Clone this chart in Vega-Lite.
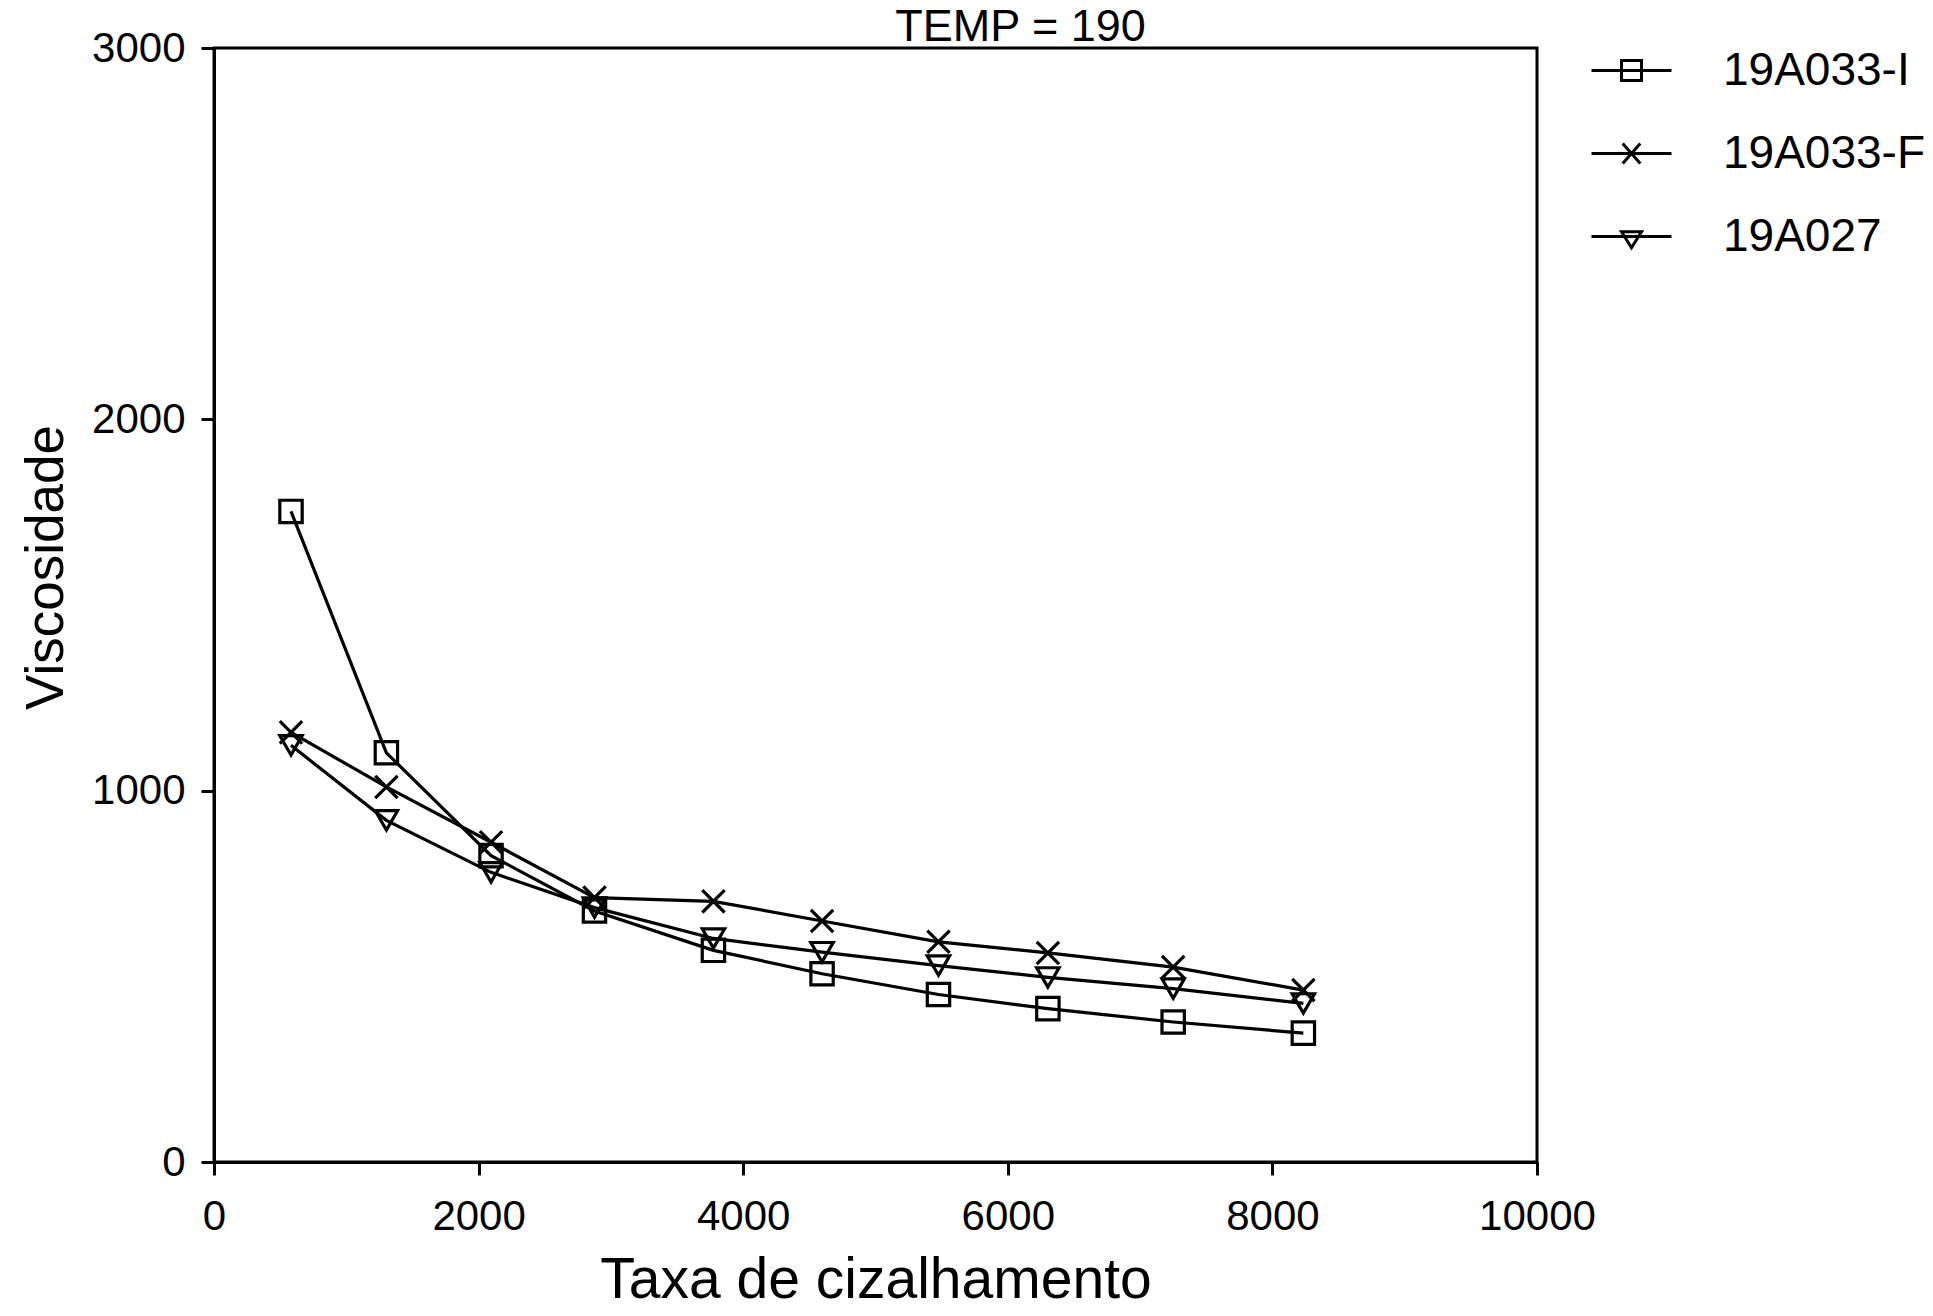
{
  "$schema": "https://vega.github.io/schema/vega-lite/v6.json",
  "autosize": {"type": "none"},
  "width": 1323,
  "height": 1114,
  "padding": {"left": 214, "top": 48, "right": 396, "bottom": 154},
  "background": "white",
  "title": {"text": "TEMP = 190", "fontSize": 45, "font": "Liberation Sans", "fontWeight": "normal", "color": "black", "anchor": "middle", "frame": "group", "dx": 145, "dy": 26, "offset": 3},
  "data": {"values": [
    {"taxa": 582, "visc": 1752, "serie": "19A033-I"},
    {"taxa": 1303, "visc": 1102, "serie": "19A033-I"},
    {"taxa": 2094, "visc": 825, "serie": "19A033-I"},
    {"taxa": 2876, "visc": 676, "serie": "19A033-I"},
    {"taxa": 3775, "visc": 570, "serie": "19A033-I"},
    {"taxa": 4596, "visc": 507, "serie": "19A033-I"},
    {"taxa": 5476, "visc": 451, "serie": "19A033-I"},
    {"taxa": 6303, "visc": 413, "serie": "19A033-I"},
    {"taxa": 7250, "visc": 377, "serie": "19A033-I"},
    {"taxa": 8234, "visc": 347, "serie": "19A033-I"},
    {"taxa": 582, "visc": 1157, "serie": "19A033-F"},
    {"taxa": 1303, "visc": 1010, "serie": "19A033-F"},
    {"taxa": 2094, "visc": 861, "serie": "19A033-F"},
    {"taxa": 2876, "visc": 712, "serie": "19A033-F"},
    {"taxa": 3775, "visc": 702, "serie": "19A033-F"},
    {"taxa": 4596, "visc": 649, "serie": "19A033-F"},
    {"taxa": 5476, "visc": 593, "serie": "19A033-F"},
    {"taxa": 6303, "visc": 563, "serie": "19A033-F"},
    {"taxa": 7250, "visc": 525, "serie": "19A033-F"},
    {"taxa": 8234, "visc": 463, "serie": "19A033-F"},
    {"taxa": 582, "visc": 1122, "serie": "19A027"},
    {"taxa": 1303, "visc": 920, "serie": "19A027"},
    {"taxa": 2094, "visc": 780, "serie": "19A027"},
    {"taxa": 2876, "visc": 685, "serie": "19A027"},
    {"taxa": 3775, "visc": 602, "serie": "19A027"},
    {"taxa": 4596, "visc": 565, "serie": "19A027"},
    {"taxa": 5476, "visc": 529, "serie": "19A027"},
    {"taxa": 6303, "visc": 497, "serie": "19A027"},
    {"taxa": 7250, "visc": 467, "serie": "19A027"},
    {"taxa": 8234, "visc": 427, "serie": "19A027"}
  ]},
  "encoding": {
    "x": {"field": "taxa", "type": "quantitative", "scale": {"domain": [0, 10000]},
      "axis": {"values": [0, 2000, 4000, 6000, 8000, 10000], "format": "d", "title": "Taxa de cizalhamento", "labelPadding": 21, "titlePadding": 15, "titleFontSize": 57}},
    "y": {"field": "visc", "type": "quantitative", "scale": {"domain": [0, 3000]},
      "axis": {"values": [0, 1000, 2000, 3000], "format": "d", "title": "Viscosidade", "labelPadding": 16, "titleFontSize": 53, "titleX": -152, "titleY": 519, "titleBaseline": "alphabetic", "titleAngle": 270}}
  },
  "layer": [
    {"mark": {"type": "line", "color": "black", "strokeWidth": 3.2}, "encoding": {"detail": {"field": "serie"}}},
    {"mark": {"type": "point", "filled": false, "color": "black", "strokeWidth": 3.2, "size": 500, "opacity": 1},
      "encoding": {"shape": {"field": "serie", "scale": {"domain": ["19A033-I", "19A033-F", "19A027"], "range": ["square", "M-1,-1L1,1M-1,1L1,-1", "triangle-down"]}, "legend": null}}},
    {"mark": {"type": "point", "filled": false, "color": "black", "strokeWidth": 3, "opacity": 0},
      "encoding": {"shape": {"field": "serie", "scale": {"domain": ["19A033-I", "19A033-F", "19A027"], "range": ["M-1,0H1M-0.25,-0.25H0.25V0.25H-0.25Z", "M-1,0H1M-0.22,-0.25L0.22,0.25M-0.22,0.25L0.22,-0.25", "M-1,0H1M-0.25,-0.12H0.25L0,0.28Z"]},
        "legend": {"title": null, "orient": "none", "legendX": 1376, "legendY": -19, "symbolSize": 6400, "symbolStrokeWidth": 3, "symbolStrokeColor": "black", "symbolFillColor": "transparent", "symbolOpacity": 1, "labelFont": "Liberation Sans", "labelFontSize": 46, "labelColor": "black", "labelOffset": 50, "labelLimit": 500, "rowPadding": 18, "padding": 0}}}}
  ],
  "resolve": {"scale": {"shape": "independent"}, "legend": {"shape": "independent"}},
  "config": {
    "view": {"stroke": "black", "strokeWidth": 3},
    "axis": {"grid": false, "domainColor": "black", "domainWidth": 3, "tickColor": "black", "tickWidth": 3, "tickSize": 13,
      "labelFont": "Liberation Sans", "labelFontSize": 42, "labelColor": "black", "labelFlush": false,
      "titleFont": "Liberation Sans", "titleFontWeight": "normal", "titleColor": "black"}
  }
}
